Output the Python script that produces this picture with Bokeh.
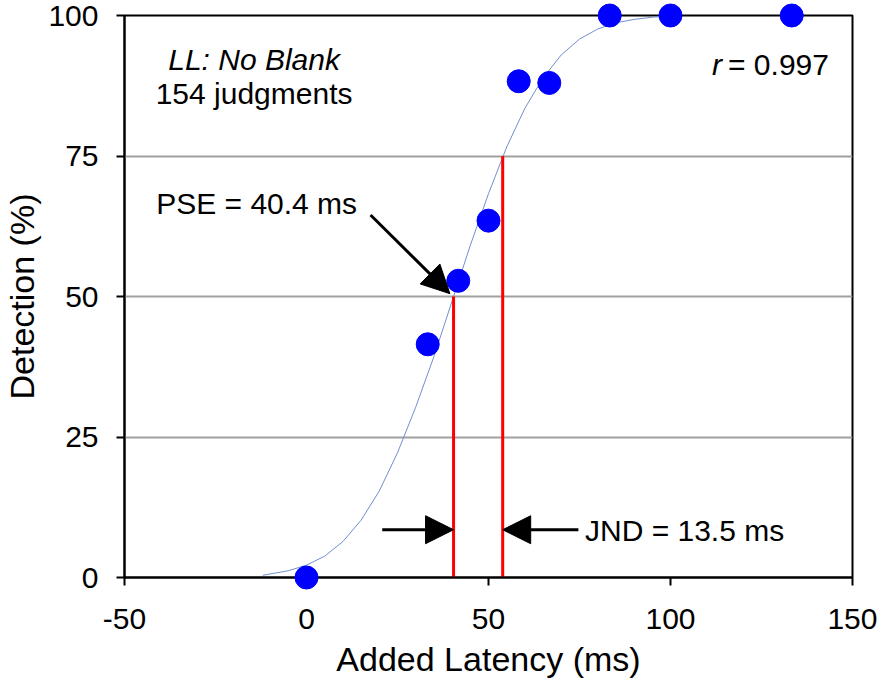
from bokeh.plotting import figure
from bokeh.models import Range1d, FixedTicker, Arrow, NormalHead
from bokeh.core.properties import value
from bokeh.embed import file_html
from bokeh.resources import INLINE

# ---- data ----
latency_ms = [0.0, 33.3, 41.7, 50.0, 58.3, 66.7, 83.3, 100.0, 133.3]
detection_pct = [0.0, 41.5, 52.8, 63.5, 88.3, 88.0, 100.0, 100.0, 100.0]

fit_latency_ms = [-12, -5, 0, 5, 10, 15, 20, 25, 30, 35, 40, 45, 50,
                  55, 60, 65, 70, 75, 80, 85, 90, 95, 100]
fit_detection_pct = [0.4, 1.2, 2.2, 3.8, 6.4, 10.2, 15.4, 22.2, 30.3, 39.3, 49.2, 59.1, 68.3,
                     76.6, 83.5, 88.9, 93.0, 95.8, 97.6, 98.7, 99.3, 99.7, 99.9]

pse_ms = 40.4
jnd_ms = 13.5
pse_level = 50
jnd_level = 75

x_ticks = [-50, 0, 50, 100, 150]
x_tick_labels = {-50: "-50", 0: "0", 50: "50", 100: "100", 150: "150"}
y_ticks = [0, 25, 50, 75, 100]
grid_ticks = [25, 50, 75]

FONT = value("Liberation Sans")
ANNOT_SIZE = value("30px")

p = figure(width=877, height=681,
           x_range=Range1d(-50, 150), y_range=Range1d(0, 100),
           output_backend="svg", toolbar_location=None,
           min_border_left=122, min_border_right=25,
           min_border_top=15, min_border_bottom=104)

p.background_fill_color = "white"
p.border_fill_color = "white"
p.outline_line_color = "black"
p.outline_line_width = 2

p.xgrid.visible = False
p.ygrid.ticker = FixedTicker(ticks=grid_ticks)
p.ygrid.grid_line_color = "#a0a0a0"
p.ygrid.grid_line_width = 2

for ax in (p.xaxis, p.yaxis):
    ax.axis_line_color = "black"
    ax.axis_line_width = 2
    ax.major_tick_line_color = "black"
    ax.major_tick_line_width = 2
    ax.major_tick_out = 8
    ax.major_tick_in = 0
    ax.minor_tick_line_color = None
    ax.major_label_text_font = "Liberation Sans"
    ax.major_label_text_font_size = "30px"
    ax.major_label_text_color = "black"
    ax.axis_label_text_font = "Liberation Sans"
    ax.axis_label_text_font_size = "34px"
    ax.axis_label_text_font_style = "normal"
    ax.axis_label_text_color = "black"

p.xaxis.ticker = FixedTicker(ticks=x_ticks)
p.xaxis.major_label_overrides = x_tick_labels
p.xaxis.axis_label = "Added Latency (ms)"
p.yaxis.ticker = FixedTicker(ticks=y_ticks)
p.yaxis.axis_label = "Detection (%)"
p.xaxis.major_label_standoff = 23
p.xaxis.axis_label_standoff = 8
p.yaxis.major_label_standoff = 18
p.yaxis.axis_label_standoff = 4

# fitted curve
p.line(fit_latency_ms, fit_detection_pct, line_color="#6f8fcf", line_width=1)

# PSE / JND red markers
p.segment(x0=[pse_ms, pse_ms + jnd_ms], y0=[0, 0],
          x1=[pse_ms, pse_ms + jnd_ms], y1=[pse_level, jnd_level],
          line_color="#ff0000", line_width=3)

# data points (drawn above the frame border, not clipped)
pts = p.scatter(latency_ms, detection_pct, size=23, fill_color="#0000ff", line_color="#0000ff")
pts.level = "annotation"

# arrows
head = dict(size=28, fill_color="black", line_color="black")
p.add_layout(Arrow(end=NormalHead(**head), x_start=17.6, y_start=64.5,
                   x_end=pse_ms - 1.0, y_end=pse_level + 0.5,
                   line_color="black", line_width=3))
p.add_layout(Arrow(end=NormalHead(**head), x_start=20.8, y_start=8.5,
                   x_end=pse_ms, y_end=8.5, line_color="black", line_width=3))
p.add_layout(Arrow(end=NormalHead(**head), x_start=74.7, y_start=8.5,
                   x_end=pse_ms + jnd_ms, y_end=8.5, line_color="black", line_width=3))

# texts
p.text(x=[-14.4], y=[92.2], text=["LL: No Blank"], text_font=FONT,
       text_font_size=ANNOT_SIZE, text_font_style="italic",
       text_align="center", text_baseline="middle", text_color="black")
p.text(x=[-14.4], y=[86.1], text=["154 judgments"], text_font=FONT,
       text_font_size=ANNOT_SIZE,
       text_align="center", text_baseline="middle", text_color="black")
p.text(x=[115.8], y=[91.2], text=["r"], text_font=FONT, x_offset=-6,
       text_font_size=ANNOT_SIZE, text_font_style="italic",
       text_align="right", text_baseline="middle", text_color="black")
p.text(x=[115.8], y=[91.2], text=["= 0.997"], text_font=FONT,
       text_font_size=ANNOT_SIZE,
       text_align="left", text_baseline="middle", text_color="black")
p.text(x=[-41.3], y=[66.6], text=["PSE = 40.4 ms"], text_font=FONT,
       text_font_size=ANNOT_SIZE,
       text_align="left", text_baseline="middle", text_color="black")
p.text(x=[76.5], y=[8.4], text=["JND = 13.5 ms"], text_font=FONT,
       text_font_size=ANNOT_SIZE,
       text_align="left", text_baseline="middle", text_color="black")

open("out.html", "w").write(file_html(p, INLINE))
